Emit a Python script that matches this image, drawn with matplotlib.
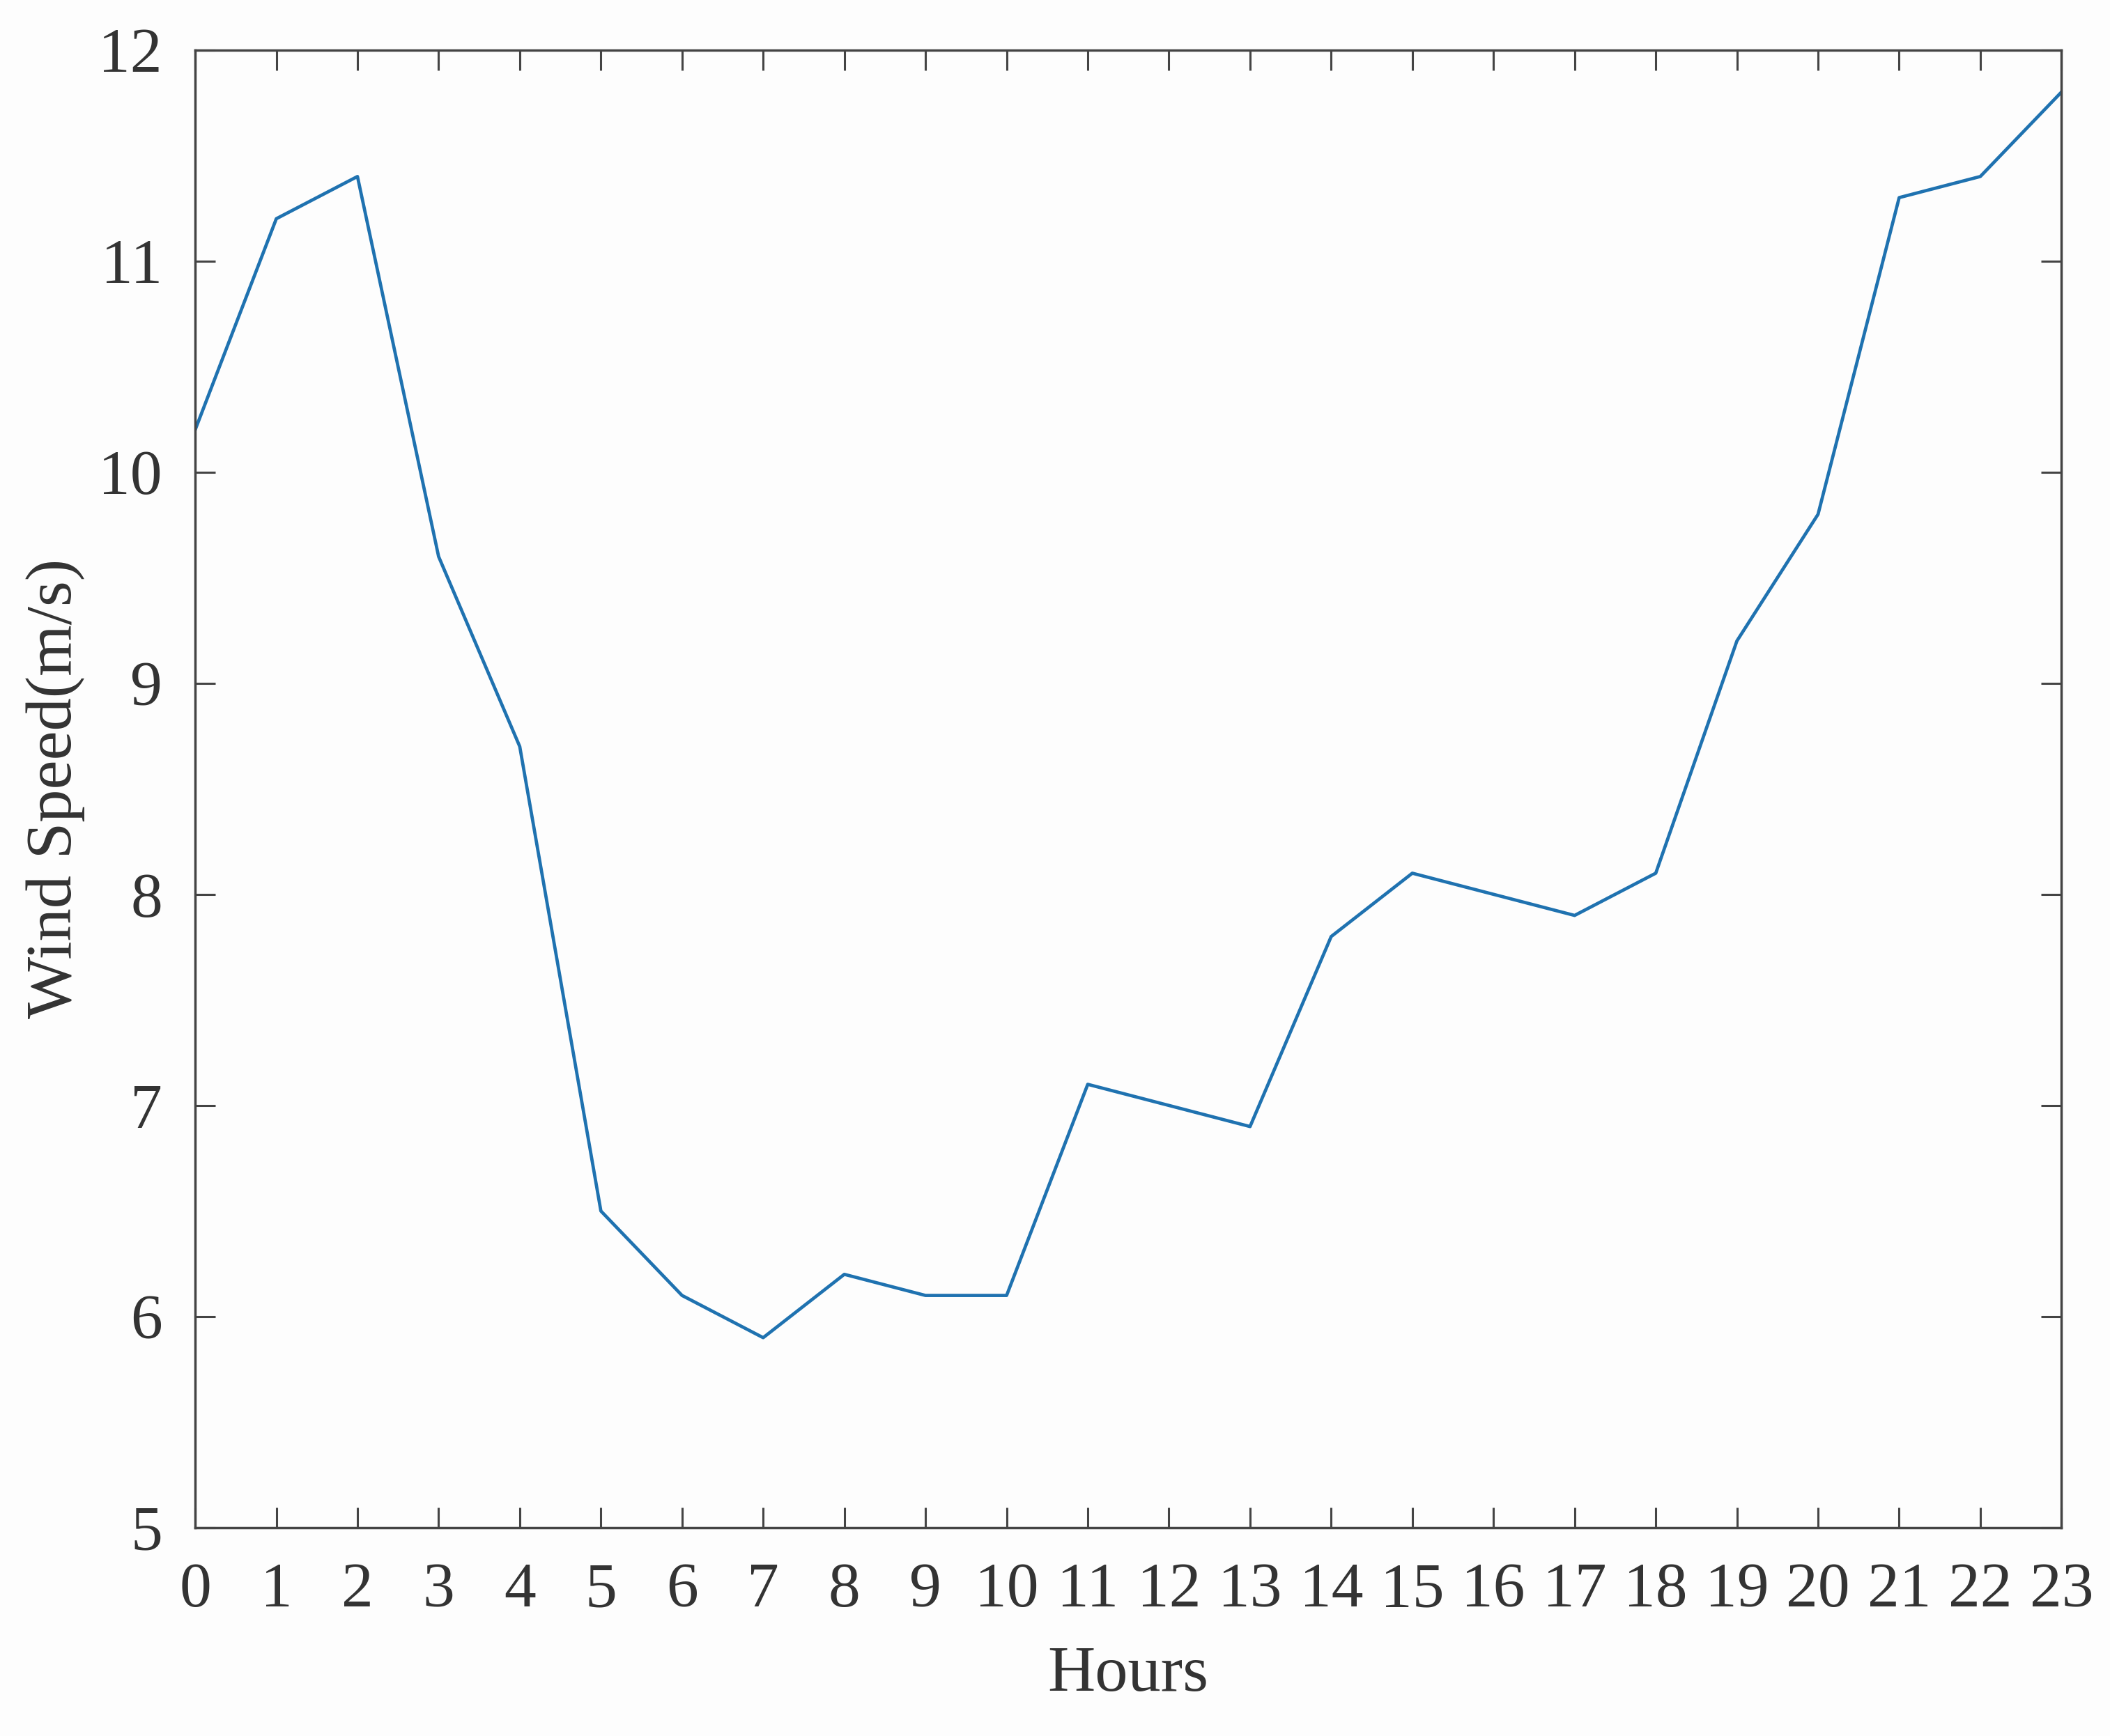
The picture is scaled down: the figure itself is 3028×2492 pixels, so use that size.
import matplotlib
matplotlib.use("Agg")
import matplotlib.pyplot as plt

hours = list(range(24))
wind_speed = [10.2, 11.2, 11.4, 9.6, 8.7, 6.5, 6.1, 5.9, 6.2, 6.1, 6.1, 7.1,
              7.0, 6.9, 7.8, 8.1, 8.0, 7.9, 8.1, 9.2, 9.8, 11.3, 11.4, 11.8]
y_ticks = [5, 6, 7, 8, 9, 10, 11, 12]

plt.rcParams['font.family'] = ['Liberation Serif', 'DejaVu Serif']

fig = plt.figure(figsize=(30.28, 24.92), dpi=100, facecolor='#fdfdfd')
ax = fig.add_axes([0.0925, 0.120, 0.977 - 0.0925, 0.9713 - 0.120])
ax.set_facecolor('#fdfdfd')

ax.plot(hours, wind_speed, color='#1f72b0', linewidth=3.4)

ax.set_xlim(0, 23)
ax.set_ylim(5, 12)
ax.set_xticks(hours)
ax.set_yticks(y_ticks)

spine_color = '#444444'
for s in ax.spines.values():
    s.set_color(spine_color)
    s.set_linewidth(2.5)

ax.tick_params(axis='both', direction='in', length=21, width=2.2, color=spine_color,
               top=True, right=True, labelsize=66, labelcolor='#333333')
ax.tick_params(axis='x', pad=36)
ax.tick_params(axis='y', pad=34)

ax.set_xlabel('Hours', fontsize=68, color='#333333', labelpad=26)
ax.set_ylabel('Wind Speed(m/s)', fontsize=68, color='#333333', labelpad=14)

fig.savefig('out.png', dpi=100, facecolor=fig.get_facecolor())
